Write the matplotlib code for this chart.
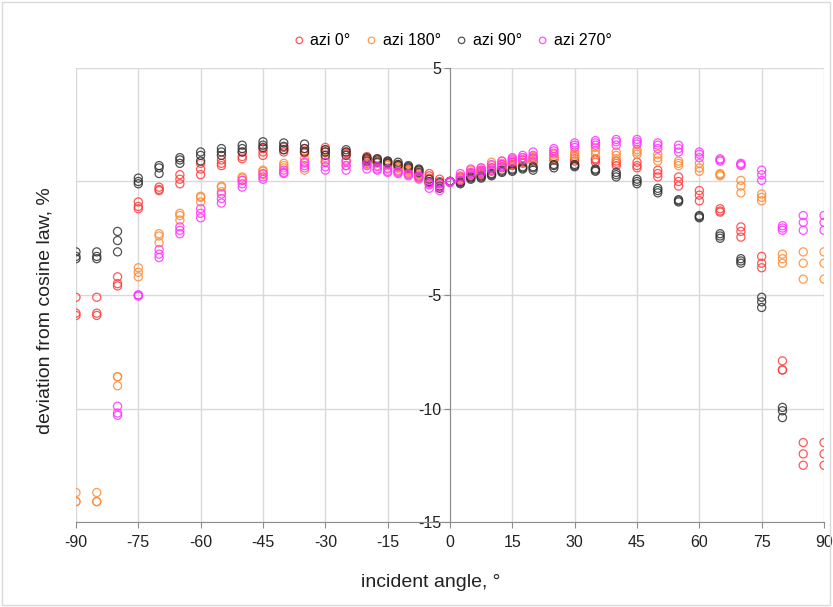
import numpy as np
import matplotlib
matplotlib.use("Agg")
import matplotlib.pyplot as plt
from matplotlib.patches import Rectangle

plt.rcParams['font.family'] = ['Liberation Sans', 'DejaVu Sans']
plt.rcParams['axes.unicode_minus'] = False

angles = [-90, -85, -80, -75, -70, -65, -60, -55, -50, -45, -40, -35, -30, -25,
          -20, -17.5, -15, -12.5, -10, -7.5, -5, -2.5, 0, 2.5, 5, 7.5, 10, 12.5,
          15, 17.5, 20, 25, 30, 35, 40, 45, 50, 55, 60, 65, 70, 75, 80, 85, 90]

nan = float('nan')

# three repeated measurements per incident angle
azi_0 = [
    [-5.1, -5.8, -5.9], [-5.1, -5.8, -5.9], [-4.2, -4.5, -4.6], [-0.9, -1.1, -1.2],
    [-0.25, -0.35, -0.4], [0.3, 0.1, -0.1], [0.8, 0.55, 0.3], [0.95, 0.8, 0.7],
    [1.3, 1.1, 1.0], [1.45, 1.3, 1.15], [1.5, 1.4, 1.3], [1.45, 1.35, 1.25],
    [1.5, 1.4, 1.3], [1.3, 1.25, 1.2], [1.1, 1.0, 0.95], [1.0, 0.9, 0.85],
    [0.9, 0.8, 0.75], [0.75, 0.7, 0.6], [0.6, 0.55, 0.5], [0.5, 0.45, 0.35],
    [0.35, 0.25, 0.15], [0.1, 0.0, -0.1], [0.0, 0.0, 0.0], [0.15, 0.05, 0.0],
    [0.35, 0.25, 0.2], [0.45, 0.35, 0.3], [0.6, 0.5, 0.45], [0.75, 0.65, 0.6],
    [0.85, 0.75, 0.7], [0.95, 0.85, 0.8], [1.0, 0.9, 0.85], [1.1, 1.0, 0.95],
    [1.1, 1.0, 0.9], [1.0, 0.95, 0.85], [0.9, 0.8, 0.7], [0.85, 0.7, 0.6],
    [0.5, 0.35, 0.2], [0.2, 0.0, -0.2], [-0.4, -0.6, -0.85], [-1.2, -1.3, -1.35],
    [-2.0, -2.2, -2.45], [-3.3, -3.6, -3.8], [-7.9, -8.3, -8.3],
    [-11.5, -12.0, -12.5], [-11.5, -12.0, -12.5],
]

azi_180 = [
    [-13.7, -14.1, -14.1], [-13.7, -14.1, -14.1], [-8.6, -8.6, -9.0], [-3.8, -4.0, -4.2],
    [-2.3, -2.4, -2.7], [-1.4, -1.5, -1.7], [-0.65, -0.7, -0.9], [-0.2, -0.25, -0.45],
    [0.2, 0.15, 0.05], [0.5, 0.45, 0.3], [0.8, 0.7, 0.6], [1.0, 0.8, 0.5],
    [1.05, 0.95, 0.85], [0.95, 0.85, 0.7], [0.9, 0.85, 0.75], [0.85, 0.8, 0.7],
    [0.75, 0.7, 0.6], [0.65, 0.6, 0.5], [0.5, 0.45, 0.4], [0.3, 0.2, 0.1],
    [0.1, 0.0, -0.1], [-0.1, -0.2, -0.25], [0.0, 0.0, 0.0], [0.25, 0.2, 0.1],
    [0.5, 0.4, 0.3], [0.6, 0.5, 0.4], [0.85, 0.7, 0.6], [0.9, 0.8, 0.7],
    [1.0, 0.9, 0.8], [1.05, 0.95, 0.85], [1.1, 1.0, 0.9], [1.2, 1.1, 1.0],
    [1.3, 1.2, 1.1], [1.5, 1.35, 1.2], [1.3, 1.15, 1.0], [1.4, 1.3, 1.2],
    [1.2, 1.05, 0.9], [0.9, 0.8, 0.7], [0.8, 0.6, 0.45], [0.35, 0.3, 0.25],
    [0.05, -0.2, -0.5], [-0.55, -0.7, -0.85], [-3.2, -3.4, -3.6],
    [-3.1, -3.6, -4.3], [-3.1, -3.6, -4.3],
]

azi_90 = [
    [-3.1, -3.3, -3.4], [-3.1, -3.3, -3.4], [-2.2, -2.6, -3.1], [0.15, 0.0, -0.1],
    [0.7, 0.6, 0.35], [1.05, 0.95, 0.8], [1.3, 1.15, 0.9], [1.45, 1.3, 1.15],
    [1.6, 1.45, 1.3], [1.75, 1.6, 1.5], [1.7, 1.55, 1.4], [1.65, 1.45, 1.3],
    [1.4, 1.3, 1.15], [1.4, 1.3, 1.15], [1.05, 1.0, 0.9], [1.0, 0.95, 0.85],
    [0.9, 0.85, 0.8], [0.85, 0.75, 0.7], [0.7, 0.65, 0.6], [0.55, 0.5, 0.4],
    [0.1, 0.0, -0.05], [-0.05, -0.2, -0.3], [0.0, 0.0, 0.0], [0.0, -0.05, -0.1],
    [0.2, 0.15, 0.1], [0.25, 0.2, 0.15], [0.35, 0.3, 0.25], [0.5, 0.45, 0.4],
    [0.55, 0.5, 0.45], [0.65, 0.6, 0.55], [0.65, 0.6, 0.5], [0.75, 0.7, 0.6],
    [0.75, 0.7, 0.65], [0.55, 0.5, 0.45], [0.4, 0.3, 0.2], [0.1, 0.0, -0.1],
    [-0.3, -0.4, -0.5], [-0.8, -0.85, -0.9], [-1.5, -1.55, -1.6], [-2.3, -2.4, -2.5],
    [-3.4, -3.5, -3.6], [-5.1, -5.3, -5.55], [-9.95, -10.1, -10.4],
    [nan, nan, nan], [nan, nan, nan],
]

azi_270 = [
    [nan, nan, nan], [nan, nan, nan], [-9.9, -10.2, -10.3], [-5.0, -5.0, -5.05],
    [-3.0, -3.2, -3.35], [-2.0, -2.15, -2.3], [-1.2, -1.4, -1.6], [-0.55, -0.75, -0.95],
    [0.05, -0.1, -0.25], [0.35, 0.2, 0.1], [0.5, 0.4, 0.35], [0.85, 0.7, 0.6],
    [0.85, 0.65, 0.5], [0.9, 0.7, 0.5], [0.8, 0.7, 0.55], [0.65, 0.55, 0.5],
    [0.55, 0.45, 0.4], [0.45, 0.4, 0.35], [0.35, 0.3, 0.25], [0.25, 0.2, 0.15],
    [-0.05, -0.15, -0.3], [-0.1, -0.25, -0.4], [-0.05, 0.0, 0.0], [0.35, 0.2, 0.05],
    [0.55, 0.4, 0.3], [0.6, 0.5, 0.4], [0.75, 0.6, 0.5], [0.9, 0.75, 0.65],
    [1.05, 0.95, 0.85], [1.15, 1.05, 0.95], [1.3, 1.15, 1.05], [1.45, 1.35, 1.25],
    [1.7, 1.6, 1.5], [1.8, 1.7, 1.6], [1.85, 1.75, 1.6], [1.85, 1.75, 1.65],
    [1.7, 1.6, 1.45], [1.6, 1.45, 1.3], [1.3, 1.2, 1.05], [1.0, 0.95, 0.9],
    [0.8, 0.75, 0.7], [0.5, 0.3, 0.05], [-1.95, -2.05, -2.15],
    [-1.5, -1.8, -2.15], [-1.5, -1.8, -2.15],
]

series = [
    ("azi 0°", azi_0, "#ff3b3b"),
    ("azi 180°", azi_180, "#ff8a33"),
    ("azi 90°", azi_90, "#333333"),
    ("azi 270°", azi_270, "#ff33ff"),
]

x_ticks = [-90, -75, -60, -45, -30, -15, 0, 15, 30, 45, 60, 75, 90]
y_ticks = [-15, -10, -5, 0, 5]

fig = plt.figure(figsize=(8.33, 6.07), dpi=100)
ax = fig.add_axes([0.0912, 0.140, 0.898, 0.748])

for label, vals, color in series:
    arr = np.array(vals, dtype=float)
    xs = np.repeat(np.array(angles, dtype=float), arr.shape[1])
    ys = arr.ravel()
    ax.scatter(xs, ys, s=34, facecolors='none', edgecolors=color,
               linewidths=0.9, alpha=0.85, label=label, zorder=3)

ax.set_xlim(-90, 90)
ax.set_ylim(-15, 5)
ax.set_xticks(x_ticks)
ax.set_yticks(y_ticks)
ax.set_yticklabels(["" if t == 0 else str(t) for t in y_ticks])
ax.grid(True, color="#d9d9d9", linewidth=1.0, zorder=0)
ax.set_axisbelow(True)

for side in ("top", "right"):
    ax.spines[side].set_visible(False)
ax.spines["bottom"].set_color("#8c8c8c")
ax.spines["left"].set_position(("data", 0))
ax.spines["left"].set_color("#8c8c8c")
ax.spines["left"].set_zorder(2)

ax.tick_params(axis="x", direction="out", length=4, color="#8c8c8c",
               labelsize=11.5, pad=5, labelcolor="#222222")
ax.tick_params(axis="y", direction="out", length=4, color="#8c8c8c",
               labelsize=11.5, pad=2, labelcolor="#222222")

fig.text(0.517, 0.040, "incident angle, °", fontsize=14,
         ha="center", va="center", color="#222222")
fig.text(0.054, 0.488, "deviation from cosine law, %", rotation=90,
         fontsize=14, ha="center", va="center", color="#222222")

handles, labels = ax.get_legend_handles_labels()
fig.legend(handles, labels, loc="center", bbox_to_anchor=(0.543, 0.934), ncol=4,
           frameon=False, fontsize=11.5, handlelength=0.8, handletextpad=0.3,
           columnspacing=0.9, markerscale=0.8, borderaxespad=0)

fig.patches.append(Rectangle((0.002, 0.004), 0.994, 0.993,
                             transform=fig.transFigure, fill=False,
                             edgecolor="#d9d9d9", linewidth=1.0))

fig.savefig("out.png", dpi=100)
